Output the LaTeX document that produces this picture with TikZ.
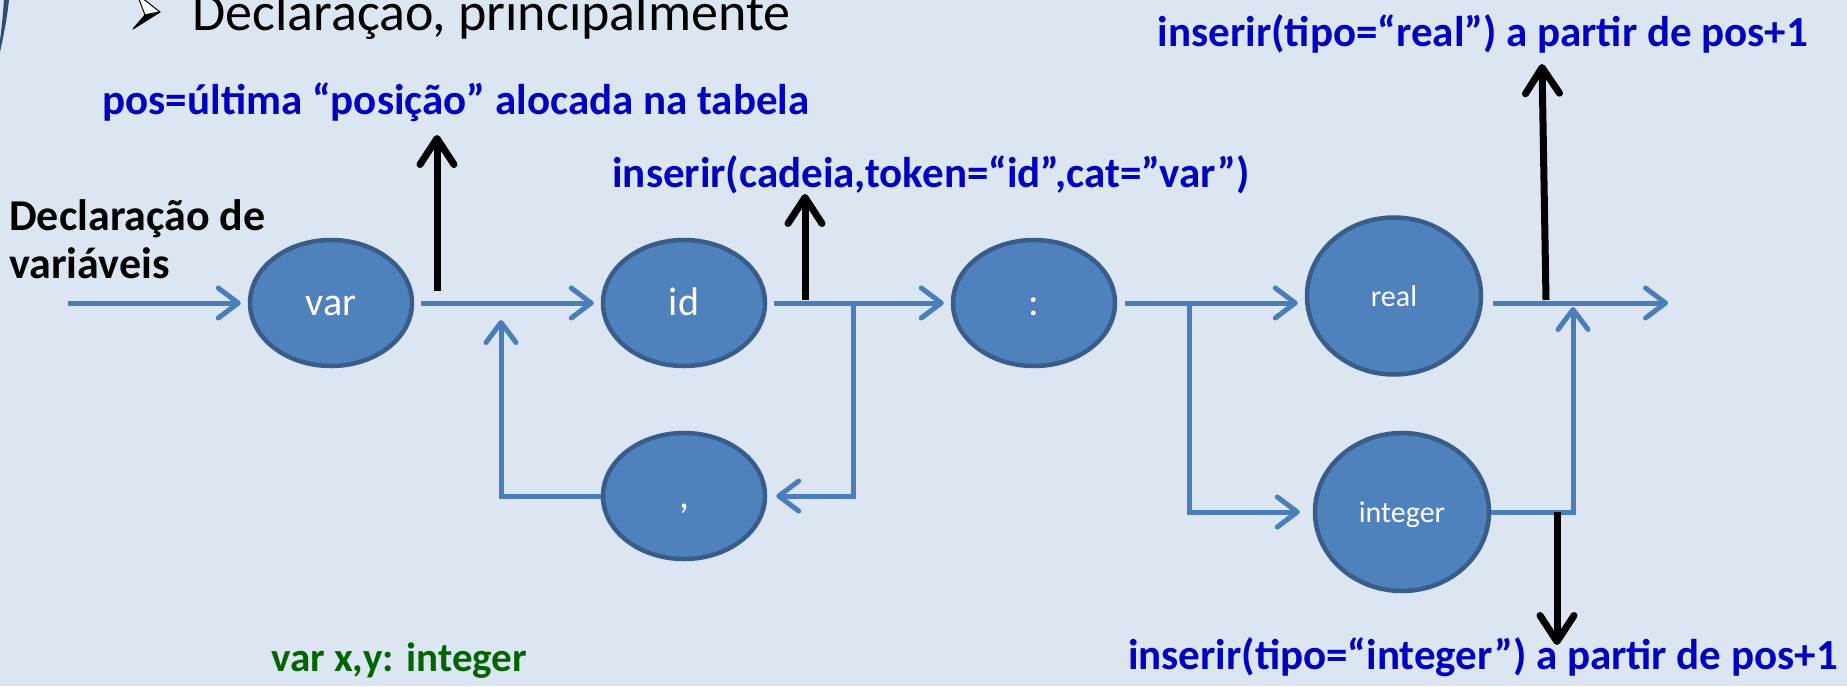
\documentclass[tikz,border=0pt]{standalone}
\usepackage{fontspec}
\setmainfont{Carlito}
\usetikzlibrary{shapes.geometric,arrows.meta,calc}

\definecolor{slidebg}{HTML}{DCE6F2}
\definecolor{statefill}{HTML}{4F81BD}
\definecolor{stateedge}{HTML}{385D8A}
\definecolor{flowblue}{HTML}{4A7EBB}
\definecolor{actionblue}{HTML}{0000C0}
\definecolor{examplegreen}{HTML}{006400}
\definecolor{cornerblue}{HTML}{2C4D75}

\tikzset{
  state/.style={ellipse, draw=stateedge, fill=statefill, line width=4.5pt,
    inner sep=0pt, text=white, text height=30pt, text depth=6pt,
    font=\fontsize{40}{48}\selectfont},
  smallstate/.style={state, text height=26pt, text depth=6pt,
    font=\fontsize{30}{36}\selectfont},
  flow/.style={draw=flowblue, line width=5pt},
  flowarrow/.style={flow, -{Straight Barb[length=20pt, width=30pt, round]},
    shorten >=7pt},
  action/.style={draw=black, line width=7pt,
    -{Straight Barb[length=26pt, width=34pt, round]}},
  actionlabel/.style={anchor=base, text=actionblue,
    font=\bfseries\fontsize{43}{50}\selectfont, inner sep=0pt},
}

\begin{document}
\begin{tikzpicture}[x=1pt, y=-1pt]
\useasboundingbox (0,0) rectangle (1847,686);
\clip (0,0) rectangle (1847,686);
\fill[slidebg] (0,0) rectangle (1847,686);

% slide frame corner
\fill[cornerblue] (9,0) .. controls (7,18) and (4,34) .. (0,52) -- (0,40)
  .. controls (2,26) and (3,12) .. (4,0) -- cycle;

% heading bullet (three-d arrowhead)
\coordinate (btip) at (160,12);
\coordinate (bnotch) at (145,15);
\coordinate (blow) at (133,29);
\coordinate (bup) at (137,-6);
\filldraw[fill=white, draw=black, line width=1pt, line join=round]
  (btip) -- (bup) -- (bnotch) -- cycle;
\filldraw[fill=black, draw=black, line width=1pt, line join=round]
  (btip) -- (bnotch) -- (blow) -- cycle;
\node[anchor=base west, inner sep=0pt, font=\fontsize{54}{60}\selectfont]
  (heading) at (192,30) {Declaração, principalmente};

% states
\node[state, minimum width=162pt, minimum height=126pt] (var) at (331,303) {var};
\node[state, minimum width=162pt, minimum height=126pt] (id) at (684,303) {id};
\node[state, minimum width=162pt, minimum height=126pt] (colon) at (1034,303) {:};
\node[state, minimum width=162pt, minimum height=126pt] (comma) at (684,496) {,};
\node[smallstate, minimum width=174pt, minimum height=157pt] (real) at (1394,296) {real};
\node[smallstate, minimum width=174pt, minimum height=158pt] (integer) at (1402,512) {integer};

% texts
\node[anchor=base west, inner sep=0pt, align=left,
  font=\bfseries\fontsize{44}{48}\selectfont] (title) at (9,278)
  {Declaração de\\variáveis};
\node[actionlabel] (lblpos) at (456,114) {pos=última “posição” alocada na tabela};
\node[actionlabel] (lblid) at (931,187) {inserir(cadeia,token=“id”,cat=”var”)};
\node[actionlabel] (lblreal) at (1483,46) {inserir(tipo=“real”) a partir de pos+1};
\node[actionlabel] (lblint) at (1483,669) {inserir(tipo=“integer”) a partir de pos+1};
\node[anchor=base, inner sep=0pt, text=examplegreen,
  font=\bfseries\fontsize{41}{50}\selectfont] (example) at (399,671) {var x,y: integer};

% junction points
\coordinate (in) at (68,303);
\coordinate (loopsplit) at (853,303);
\coordinate (loopjoin) at (501,303);
\coordinate (typesplit) at (1189,303);
\coordinate (typejoin) at (1573,303);
\coordinate (out) at (1668,303);

% main flow
\draw[flowarrow] (in) -- (var.west);
\draw[flowarrow, shorten <=7pt] (var.east) -- (id.west);
\draw[flowarrow, shorten <=7pt] (id.east) -- (colon.west);
\draw[flowarrow, shorten <=8pt] (colon.east) -- (colon.east -| real.west);
\draw[flowarrow, shorten >=0pt, shorten <=10pt] (real.east |- out) -- (out);

% repetition loop through the comma
\draw[flowarrow, shorten >=9pt] (loopsplit) |- (comma.east);
\draw[flowarrow, shorten >=17pt] (comma.west) -| (loopjoin);

% type alternatives
\draw[flowarrow, shorten >=13pt] (typesplit) |- (integer.west);
\draw[flowarrow, shorten >=4pt] (integer.east) -| (typejoin);

% semantic actions
\coordinate (a1) at (437,291);
\coordinate (a1t) at (437,135);
\coordinate (a2) at (805,300);
\coordinate (a2t) at (805,194);
\coordinate (a3) at (1546,300);
\coordinate (a3t) at (1542,64);
\coordinate (a4) at (1557,512);
\coordinate (a4t) at (1557,645);
\draw[action] (a1) -- (a1t);
\draw[action] (a2) -- (a2t);
\draw[action] (a3) -- (a3t);
\draw[action] (a4) -- (a4t);
\end{tikzpicture}
\end{document}
